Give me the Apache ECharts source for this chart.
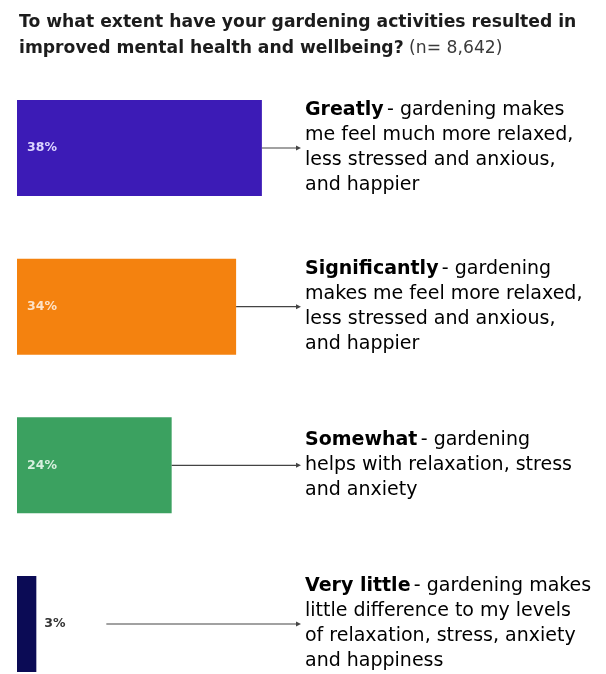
<!DOCTYPE html>
<html>
<head>
<meta charset="utf-8">
<script src="https://cdn.jsdelivr.net/npm/echarts@6/dist/echarts.min.js"></script>
<style>
html,body{margin:0;padding:0;background:#fff;}
#chart{width:606px;height:674px;}
</style>
</head>
<body>
<div id="chart"></div>
<script>
// ---- data ----
var categories = ['Greatly', 'Significantly', 'Somewhat', 'Very little'];
var values = [38, 34, 24, 3];
var descriptions = [
  ['- gardening makes', 'me feel much more relaxed,', 'less stressed and anxious,', 'and happier'],
  ['- gardening', 'makes me feel more relaxed,', 'less stressed and anxious,', 'and happier'],
  ['- gardening', 'helps with relaxation, stress', 'and anxiety'],
  ['- gardening makes', 'little difference to my levels', 'of relaxation, stress, anxiety', 'and happiness']
];
var colors = ['#3c1bb6', '#f4820f', '#3ba160', '#0b0b55'];
var labelColors = ['#ddd6ff', '#fde3c8', '#d8f0df', '#333333'];
var titleLine1 = 'To what extent have your gardening activities resulted in';
var titleLine2 = 'improved mental health and wellbeing?';
var titleN = ' (n= 8,642)';

var FONT = 'DejaVu Sans';
var TEXT_X = 305;

var chart = echarts.init(document.getElementById('chart'), null, {renderer: 'canvas'});

var barData = values.map(function (v, i) {
  var outside = v < 10;
  return {
    value: v,
    itemStyle: {color: colors[i]},
    label: {
      show: true,
      position: outside ? 'right' : 'insideLeft',
      distance: outside ? 8 : 10,
      color: labelColors[i],
      fontWeight: 'bold',
      fontSize: 12.5,
      fontFamily: FONT
    }
  };
});

var customData = values.map(function (v, i) { return [v, i]; });

var option = {
  animation: false,
  backgroundColor: '#ffffff',
  title: {
    left: 14,
    top: 5,
    text: '{b|' + titleLine1 + '}\n{b|' + titleLine2 + '}{n|' + titleN + '}',
    textStyle: {
      rich: {
        b: {fontFamily: FONT, fontWeight: 'bold', fontSize: 17.2, color: '#1c1c1c', lineHeight: 26},
        n: {fontFamily: FONT, fontWeight: 'normal', fontSize: 17.2, color: '#3a3a3a', lineHeight: 26}
      }
    }
  },
  grid: {left: 17, width: 580, top: 148, height: 476, containLabel: false},
  xAxis: {type: 'value', min: 0, max: 90, show: false},
  yAxis: {type: 'category', data: categories, inverse: true, show: false, boundaryGap: false},
  series: [
    {
      type: 'bar',
      data: barData,
      barWidth: 96,
      clip: false,
      label: {formatter: '{c}%'},
      z: 2
    },
    {
      type: 'custom',
      data: customData,
      encode: {x: 0, y: 1},
      clip: false,
      z: 3,
      renderItem: function (params, api) {
        var v = api.value(0);
        var idx = api.value(1);
        var end = api.coord([v, idx]);
        var y = end[1];
        var startX = end[0] + (v < 10 ? 70 : 0);
        var tipX = TEXT_X - 4;
        var desc = descriptions[idx];
        var txt = '{b|' + categories[idx] + '} {n|' + desc[0] + '}';
        for (var k = 1; k < desc.length; k++) {
          txt += '\n{n|' + desc[k] + '}';
        }
        return {
          type: 'group',
          children: [
            {
              type: 'line',
              shape: {x1: startX, y1: y, x2: tipX - 3, y2: y},
              style: {stroke: '#444444', lineWidth: 1.2}
            },
            {
              type: 'polygon',
              shape: {points: [[tipX, y], [tipX - 5, y - 2.5], [tipX - 5, y + 2.5]]},
              style: {fill: '#444444'}
            },
            {
              type: 'text',
              x: TEXT_X,
              y: y,
              style: {
                text: txt,
                verticalAlign: 'middle',
                align: 'left',
                rich: {
                  b: {fontFamily: FONT, fontWeight: 'bold', fontSize: 19, color: '#262626', lineHeight: 25},
                  n: {fontFamily: FONT, fontWeight: 'normal', fontSize: 19, color: '#444444', lineHeight: 25}
                }
              }
            }
          ]
        };
      }
    }
  ]
};

chart.setOption(option);
</script>
</body>
</html>
